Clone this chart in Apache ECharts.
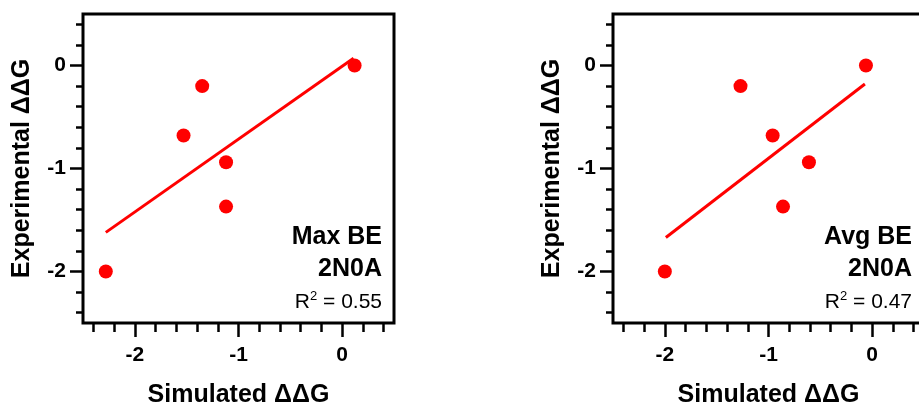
<!DOCTYPE html>
<html>
<head>
<meta charset="utf-8">
<script src="https://cdn.jsdelivr.net/npm/echarts@6/dist/echarts.min.js"></script>
<style>
  html, body { margin: 0; padding: 0; background: #fff; }
  #main { width: 919px; height: 406px; }
</style>
</head>
<body>
<div id="main"></div>
<script>
// values
const maxX = [0.12, -1.35, -1.53, -1.12, -1.12, -2.28];
const maxY = [0.0, -0.2, -0.68, -0.94, -1.37, -2.0];
const maxFitX = [-2.28, 0.11];
const maxFitY = [-1.62, 0.07];

const avgX = [-0.06, -1.27, -0.96, -0.61, -0.86, -2.0];
const avgY = [0.0, -0.2, -0.68, -0.94, -1.37, -2.0];
const avgFitX = [-1.99, -0.07];
const avgFitY = [-1.67, -0.18];

const majorTicks = [-2, -1, 0];
const minorTicks = [-2.4, -2.2, -2, -1.8, -1.6, -1.4, -1.2, -1, -0.8, -0.6, -0.4, -0.2, 0, 0.2, 0.4];
const axisMin = -2.5;
const axisMax = 0.5;

const panels = [
  { title: "Max BE", code: "2N0A", r2: "0.55" },
  { title: "Avg BE", code: "2N0A", r2: "0.47" },
];

const FONT = "'Liberation Sans', Arial, sans-serif";
const tickLine = { color: "#000", width: 2.5 };

function pairs(xs, ys) {
  return xs.map((x, i) => [x, ys[i]]);
}

function axesFor(gridIndex, isX) {
  let base = {
    type: "value",
    gridIndex: gridIndex,
    min: axisMin,
    max: axisMax,
    position: isX ? "bottom" : "left",
    axisLine: { show: false, onZero: false },
    splitLine: { show: false },
  };
  let minor = Object.assign({}, base, {
    axisTick: { customValues: minorTicks, length: isX ? 9 : 7, lineStyle: tickLine },
    axisLabel: { show: false },
  });
  let major = Object.assign({}, base, {
    name: isX ? "Simulated \u0394\u0394G" : "Experimental \u0394\u0394G",
    nameLocation: "middle",
    nameGap: isX ? 60 : 48,
    nameTextStyle: { fontFamily: FONT, fontSize: 25, fontWeight: "bold", color: "#000" },
    axisTick: { customValues: majorTicks, length: isX ? 14 : 13, lineStyle: tickLine },
    axisLabel: {
      customValues: majorTicks,
      margin: isX ? 22 : 17,
      fontFamily: FONT,
      fontSize: 21,
      fontWeight: "bold",
      color: "#000",
    },
  });
  return [minor, major];
}

const gridLefts = [83, 613];

let xAxes = [];
let yAxes = [];
let series = [];
let texts = [];
gridLefts.forEach((left, g) => {
  xAxes = xAxes.concat(axesFor(g, true));
  yAxes = yAxes.concat(axesFor(g, false));
  let xs = g === 0 ? maxX : avgX;
  let ys = g === 0 ? maxY : avgY;
  let fx = g === 0 ? maxFitX : avgFitX;
  let fy = g === 0 ? maxFitY : avgFitY;
  series.push({
    type: "line",
    xAxisIndex: g * 2 + 1,
    yAxisIndex: g * 2 + 1,
    data: pairs(fx, fy),
    showSymbol: false,
    lineStyle: { color: "#ff0000", width: 3 },
    z: 2,
  });
  series.push({
    type: "scatter",
    xAxisIndex: g * 2 + 1,
    yAxisIndex: g * 2 + 1,
    data: pairs(xs, ys),
    symbolSize: 14,
    itemStyle: { color: "#ff0000", opacity: 1 },
    z: 3,
  });
  let right = left + 311 - 12;
  let p = panels[g];
  texts.push({
    type: "text", x: right, y: 237,
    style: { text: p.title, textAlign: "right", textVerticalAlign: "middle", fontFamily: FONT, fontSize: 25, fontWeight: "bold", fill: "#000" },
  });
  texts.push({
    type: "text", x: right, y: 269,
    style: { text: p.code, textAlign: "right", textVerticalAlign: "middle", fontFamily: FONT, fontSize: 25, fontWeight: "bold", fill: "#000" },
  });
  texts.push({
    type: "text", x: right, y: 302,
    style: {
      text: "{base|R}{sup|2}{base| = " + p.r2 + "}",
      textAlign: "right",
      textVerticalAlign: "middle",
      rich: {
        base: { fontFamily: FONT, fontSize: 21, lineHeight: 24, fill: "#000" },
        sup: { fontFamily: FONT, fontSize: 13, lineHeight: 12, verticalAlign: "top", fill: "#000" },
      },
    },
  });
});

const chart = echarts.init(document.getElementById("main"));
chart.setOption({
  animation: false,
  backgroundColor: "#fff",
  grid: gridLefts.map((left) => ({
    left: left,
    top: 14,
    width: 311,
    height: 309,
    show: true,
    borderColor: "#000",
    borderWidth: 3,
    backgroundColor: "transparent",
    outerBoundsMode: "none",
    containLabel: false,
  })),
  xAxis: xAxes,
  yAxis: yAxes,
  series: series,
  graphic: texts,
});
</script>
</body>
</html>
